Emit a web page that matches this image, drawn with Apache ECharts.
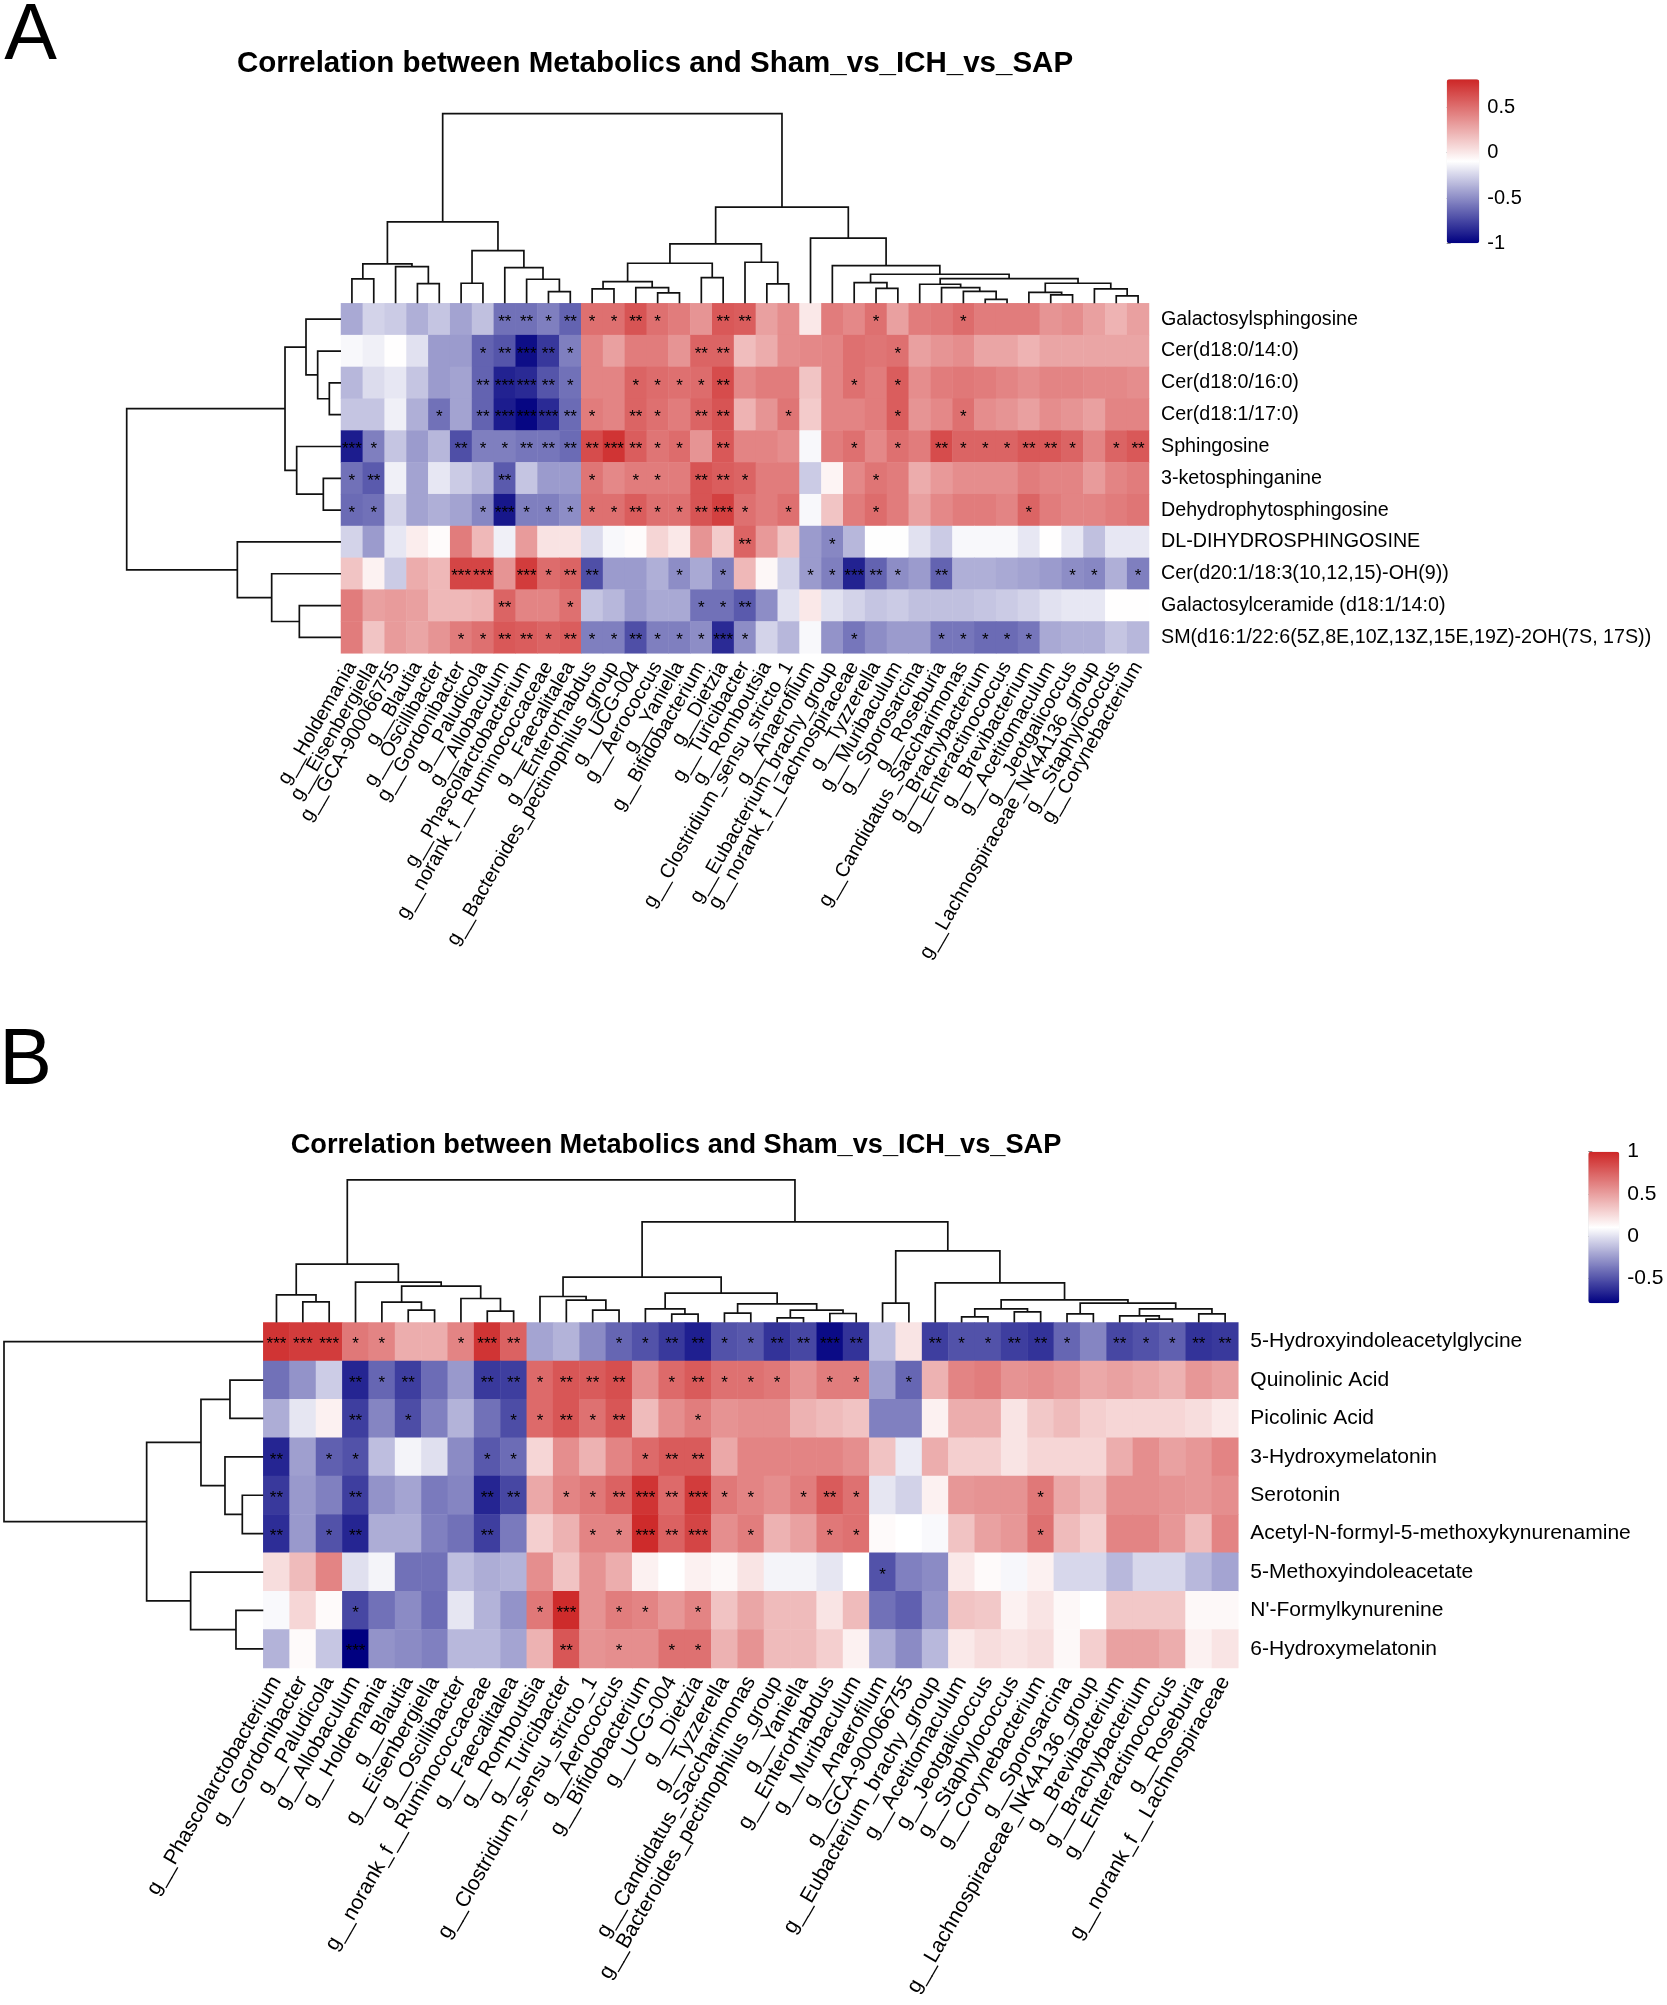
<!DOCTYPE html>
<html><head><meta charset="utf-8">
<script src="https://cdn.jsdelivr.net/npm/echarts@6/dist/echarts.min.js"></script>
<style>html,body{margin:0;padding:0;background:#fff}#c{width:1667px;height:2005px}</style>
</head><body><div id="c"></div>
<script>
const FONT = '"Liberation Sans", Arial, Helvetica, sans-serif';

// ---------------- Panel A data ----------------
const titleA = 'Correlation between Metabolics and Sham_vs_ICH_vs_SAP';
const rowsA = ['Galactosylsphingosine','Cer(d18:0/14:0)','Cer(d18:0/16:0)','Cer(d18:1/17:0)','Sphingosine','3-ketosphinganine','Dehydrophytosphingosine','DL-DIHYDROSPHINGOSINE','Cer(d20:1/18:3(10,12,15)-OH(9))','Galactosylceramide (d18:1/14:0)','SM(d16:1/22:6(5Z,8E,10Z,13Z,15E,19Z)-2OH(7S, 17S))'];
const colsA = ['g__Holdemania','g__Eisenbergiella','g__GCA-900066755','g__Blautia','g__Oscillibacter','g__Gordonibacter','g__Paludicola','g__Allobaculum','g__Phascolarctobacterium','g__norank_f__Ruminococcaceae','g__Faecalitalea','g__Enterorhabdus','g__Bacteroides_pectinophilus_group','g__UCG-004','g__Aerococcus','g__Yaniella','g__Bifidobacterium','g__Dietzia','g__Turicibacter','g__Romboutsia','g__Clostridium_sensu_stricto_1','g__Anaerofilum','g__Eubacterium_brachy_group','g__norank_f__Lachnospiraceae','g__Tyzzerella','g__Muribaculum','g__Sporosarcina','g__Roseburia','g__Candidatus_Saccharimonas','g__Brachybacterium','g__Enteractinococcus','g__Brevibacterium','g__Acetitomaculum','g__Jeotgalicoccus','g__Lachnospiraceae_NK4A136_group','g__Staphylococcus','g__Corynebacterium'];
const valuesA = [
 [-0.40,-0.25,-0.28,-0.38,-0.30,-0.42,-0.32,-0.60,-0.60,-0.55,-0.65,0.50,0.50,0.62,0.50,0.45,0.35,0.60,0.58,0.30,0.38,0.00,0.45,0.40,0.50,0.30,0.45,0.47,0.52,0.45,0.45,0.45,0.35,0.38,0.30,0.22,0.30],
 [-0.12,-0.15,-0.09,-0.20,-0.45,-0.45,-0.65,-0.70,-0.95,-0.80,-0.55,0.42,0.30,0.45,0.45,0.35,0.55,0.55,0.18,0.25,0.38,0.40,0.42,0.50,0.48,0.50,0.30,0.35,0.38,0.28,0.28,0.22,0.28,0.28,0.28,0.28,0.28],
 [-0.35,-0.22,-0.18,-0.30,-0.45,-0.42,-0.65,-0.88,-0.85,-0.70,-0.60,0.42,0.42,0.55,0.52,0.50,0.52,0.65,0.40,0.45,0.45,0.15,0.42,0.50,0.45,0.58,0.38,0.45,0.47,0.45,0.42,0.38,0.42,0.42,0.40,0.40,0.38],
 [-0.30,-0.30,-0.15,-0.38,-0.60,-0.42,-0.65,-0.90,-0.98,-0.85,-0.62,0.45,0.42,0.55,0.50,0.45,0.55,0.62,0.22,0.35,0.48,0.12,0.42,0.42,0.45,0.58,0.35,0.40,0.50,0.38,0.35,0.30,0.38,0.35,0.30,0.42,0.42],
 [-0.90,-0.55,-0.30,-0.45,-0.35,-0.72,-0.55,-0.55,-0.58,-0.58,-0.62,0.65,0.75,0.58,0.48,0.52,0.35,0.60,0.42,0.42,0.38,-0.12,0.45,0.50,0.40,0.50,0.45,0.65,0.55,0.55,0.55,0.60,0.60,0.55,0.42,0.55,0.60],
 [-0.60,-0.68,-0.15,-0.42,-0.18,-0.28,-0.35,-0.68,-0.30,-0.45,-0.45,0.48,0.40,0.45,0.45,0.45,0.62,0.58,0.55,0.45,0.45,-0.28,-0.05,0.40,0.48,0.45,0.25,0.33,0.38,0.38,0.38,0.45,0.42,0.42,0.32,0.42,0.45],
 [-0.62,-0.60,-0.25,-0.42,-0.38,-0.42,-0.52,-0.92,-0.55,-0.55,-0.50,0.50,0.50,0.58,0.50,0.50,0.62,0.70,0.50,0.45,0.50,-0.12,0.15,0.45,0.52,0.45,0.30,0.40,0.45,0.45,0.42,0.55,0.45,0.42,0.42,0.45,0.48],
 [-0.25,-0.45,-0.18,-0.02,-0.08,0.45,0.20,-0.15,0.32,0.02,0.02,-0.22,-0.12,-0.08,0.08,0.00,0.35,0.12,0.55,0.33,0.15,-0.45,-0.52,-0.35,-0.10,-0.10,-0.20,-0.28,-0.12,-0.12,-0.12,-0.18,-0.09,-0.18,-0.32,-0.18,-0.18],
 [0.15,-0.04,-0.28,0.25,0.20,0.68,0.68,0.35,0.72,0.52,0.55,-0.72,-0.45,-0.45,-0.38,-0.50,-0.40,-0.55,0.20,-0.06,-0.25,-0.45,-0.55,-0.88,-0.65,-0.50,-0.45,-0.65,-0.38,-0.38,-0.40,-0.42,-0.45,-0.50,-0.52,-0.38,-0.55],
 [0.45,0.30,0.32,0.30,0.20,0.20,0.22,0.55,0.42,0.42,0.50,-0.30,-0.35,-0.45,-0.40,-0.40,-0.60,-0.60,-0.68,-0.50,-0.20,0.00,-0.20,-0.25,-0.30,-0.28,-0.32,-0.32,-0.32,-0.30,-0.28,-0.25,-0.20,-0.18,-0.18,-0.09,-0.09],
 [0.45,0.15,0.32,0.28,0.35,0.45,0.50,0.60,0.58,0.55,0.58,-0.55,-0.55,-0.72,-0.55,-0.55,-0.50,-0.85,-0.50,-0.25,-0.35,-0.12,-0.48,-0.58,-0.50,-0.45,-0.45,-0.58,-0.58,-0.62,-0.62,-0.58,-0.40,-0.38,-0.38,-0.30,-0.35]
];
// significance level per cell: 0 none, 1 '*', 2 '**', 3 '***'
const starsA = [
 '0000000221211210022000001000100000000',
 '0000001232100000220000000100000000000',
 '0000002332100111120000010100000000000',
 '0000102333210210220010000100100000000',
 '3100021122223211020000010102111221012',
 '1200000200010110221000001000000000000',
 '1100001311111211231010001000000100000',
 '0000000000000000002000100000000000000',
 '0000033031220001010001132102000001101',
 '0000000200100000112000000000000000000',
 '0000011221211211131000010001111100000'
];
// dendrograms: [height, left, right], leaves = column / row index
const colTreeA = [568,
  [244, [118, [73, 0, 1], [110, 2, [59, 3, 4]]],
        [158, [60, 5, 6], [107, 7, [72, 8, [35, 9, 10]]]]],
  [288,
    [178, [120, [65, [43, 11, 12], [47, 13, [31, 14, 15]]], [77, 16, 17]],
          [123, 18, [58, 19, 20]]],
    [195, 21,
      [113, 22,
        [87, [62, 23, [45, 24, 25]],
             [74, [57, 26, [47, 27, [36, 28, [12, 29, 30]]]],
                  [60, [33, 31, [25, 32, 33]], [43, 34, [22, 35, 36]]]]]]]]];
const rowTreeA = [643,
  [168, [105, 0, [70, 1, [35, 2, 3]]], [133, 4, [53, 5, 6]]],
  [311, 7, [208, 8, [125, 9, 10]]]];
const rangeA = [-1, 0.81];
const ticksA = [-1, -0.5, 0, 0.5];

// ---------------- Panel B data ----------------
const titleB = 'Correlation between Metabolics and Sham_vs_ICH_vs_SAP';
const rowsB = ['5-Hydroxyindoleacetylglycine','Quinolinic Acid','Picolinic Acid','3-Hydroxymelatonin','Serotonin','Acetyl-N-formyl-5-methoxykynurenamine','5-Methoxyindoleacetate',"N'-Formylkynurenine",'6-Hydroxymelatonin'];
const colsB = ['g__Phascolarctobacterium','g__Gordonibacter','g__Paludicola','g__Allobaculum','g__Holdemania','g__Blautia','g__Eisenbergiella','g__Oscillibacter','g__norank_f__Ruminococcaceae','g__Faecalitalea','g__Romboutsia','g__Turicibacter','g__Clostridium_sensu_stricto_1','g__Aerococcus','g__Bifidobacterium','g__UCG-004','g__Dietzia','g__Tyzzerella','g__Candidatus_Saccharimonas','g__Bacteroides_pectinophilus_group','g__Yaniella','g__Enterorhabdus','g__Muribaculum','g__Anaerofilum','g__GCA-900066755','g__Eubacterium_brachy_group','g__Acetitomaculum','g__Jeotgalicoccus','g__Staphylococcus','g__Corynebacterium','g__Sporosarcina','g__Lachnospiraceae_NK4A136_group','g__Brevibacterium','g__Brachybacterium','g__Enteractinococcus','g__Roseburia','g__norank_f__Lachnospiraceae'];
const valuesB = [
 [0.94,0.91,0.91,0.66,0.61,0.44,0.44,0.61,0.94,0.75,-0.22,-0.17,-0.31,-0.44,-0.51,-0.60,-0.69,-0.51,-0.49,-0.62,-0.55,-0.76,-0.62,-0.13,0.21,-0.58,-0.51,-0.51,-0.58,-0.62,-0.44,-0.33,-0.55,-0.51,-0.46,-0.62,-0.60],
 [-0.40,-0.28,-0.08,-0.67,-0.44,-0.58,-0.42,-0.26,-0.60,-0.58,0.72,0.80,0.78,0.83,0.57,0.72,0.78,0.69,0.69,0.66,0.55,0.64,0.64,-0.24,-0.44,0.42,0.61,0.64,0.55,0.57,0.53,0.46,0.49,0.46,0.42,0.53,0.49],
 [-0.19,0.01,0.16,-0.58,-0.33,-0.53,-0.35,-0.17,-0.40,-0.53,0.72,0.80,0.69,0.80,0.38,0.57,0.64,0.55,0.57,0.57,0.42,0.38,0.35,-0.35,-0.35,0.16,0.44,0.44,0.21,0.33,0.38,0.30,0.27,0.27,0.27,0.24,0.19],
 [-0.67,-0.24,-0.46,-0.51,-0.13,0.06,-0.01,-0.31,-0.49,-0.42,0.27,0.57,0.42,0.61,0.72,0.78,0.78,0.46,0.61,0.61,0.61,0.61,0.57,0.35,0.03,0.44,0.30,0.30,0.21,0.27,0.27,0.27,0.44,0.57,0.49,0.53,0.61],
 [-0.60,-0.26,-0.35,-0.58,-0.28,-0.22,-0.37,-0.33,-0.67,-0.55,0.46,0.61,0.66,0.75,0.94,0.72,0.91,0.66,0.61,0.57,0.64,0.78,0.69,0.01,-0.06,0.16,0.53,0.55,0.55,0.66,0.46,0.38,0.57,0.57,0.55,0.53,0.57],
 [-0.64,-0.26,-0.51,-0.67,-0.19,-0.19,-0.35,-0.40,-0.58,-0.37,0.30,0.42,0.61,0.61,0.98,0.75,0.87,0.57,0.64,0.42,0.49,0.66,0.69,0.12,0.10,0.08,0.35,0.49,0.53,0.69,0.38,0.30,0.61,0.61,0.53,0.38,0.61],
 [0.24,0.38,0.61,-0.01,0.06,-0.40,-0.40,-0.13,-0.19,-0.17,0.57,0.35,0.55,0.44,0.16,0.10,0.16,0.13,0.21,0.06,0.06,0.01,0.10,-0.51,-0.35,-0.31,0.19,0.12,0.07,0.16,-0.04,-0.04,-0.15,-0.04,-0.04,-0.15,-0.22],
 [0.08,0.27,0.12,-0.55,-0.40,-0.31,-0.42,0.01,-0.17,-0.28,0.66,0.98,0.55,0.64,0.61,0.53,0.61,0.35,0.47,0.38,0.38,0.21,0.38,-0.40,-0.46,-0.28,0.35,0.33,0.16,0.21,0.13,0.10,0.33,0.33,0.33,0.13,0.13],
 [-0.17,0.12,-0.10,-0.80,-0.28,-0.31,-0.35,-0.15,-0.15,-0.22,0.42,0.80,0.55,0.57,0.57,0.69,0.69,0.42,0.55,0.38,0.38,0.30,0.16,-0.19,-0.31,-0.15,0.19,0.24,0.21,0.24,0.13,0.30,0.49,0.49,0.44,0.16,0.21]
];
const starsB = [
 '3331100132000112211223200211221021122',
 '0002120022122201211101101000000000000',
 '0002010001121200100000000000000000000',
 '2011000011000012200000000000000000000',
 '2002000022011232311012100000010000000',
 '2012000020001132301001100000010000000',
 '0000000000000000000000010000000000000',
 '0001000000130110100000000000000000000',
 '0003000000020101100000000000000000000'
];
const colTreeB = [428,
  [175, [83, 0, [62, 1, 2]],
        [121, 3, [109, [61, 4, [37, 5, 6]], [72, 7, [34, 8, 9]]]]],
  [302,
    [136, [78, 10, [67, 11, [37, 12, 13]]],
          [88, [41, 14, [25, 15, 16]],
               [56, [28, 17, 18], [37, [14, 19, 20], [27, 21, 22]]]]],
    [215, [58, 23, 24],
      [119, 25,
        [68, [41, [17, 26, 27], [32, 28, 29]],
             [58, [26, 30, 31], [41, [20, 32, [10, 33, 34]], [26, 35, 36]]]]]]]];
const rowTreeB = [778, 0,
  [350, [187, [100, 1, 2], [115, 3, [63, 4, 5]]], [218, 6, [82, 7, 8]]]];
const rangeB = [-0.8, 1];
const ticksB = [-0.5, 0, 0.5, 1];

// ---------------- helpers ----------------
const STAR = ['', '*', '**', '***'];
const PALETTE = ['#000080', '#ffffff', '#CD2626'];
function heatData(vals, stars) {
  const out = [];
  vals.forEach((row, r) => row.forEach((v, c) => out.push([c, r, v, STAR[+stars[r][c]]])));
  return out;
}
function dendroSegs(tree) {
  const out = [];
  (function walk(n) {
    if (typeof n === 'number') return [n + 0.5, 0];
    const L = walk(n[1]), R = walk(n[2]);
    out.push([L[0], L[1], R[0], R[1], n[0]]);
    return [(L[0] + R[0]) / 2, n[0]];
  })(tree);
  return out;
}
function dendroSeries(tree, axisIdx, vertical) {
  return {
    type: 'custom', xAxisIndex: axisIdx, yAxisIndex: axisIdx, silent: true, clip: false,
    data: dendroSegs(tree),
    renderItem: function (params, api) {
      const xl = api.value(0), hl = api.value(1), xr = api.value(2), hr = api.value(3), h = api.value(4);
      const pts = vertical
        ? [api.coord([xl, hl]), api.coord([xl, h]), api.coord([xr, h]), api.coord([xr, hr])]
        : [api.coord([hl, xl]), api.coord([h, xl]), api.coord([h, xr]), api.coord([hr, xr])];
      return { type: 'polyline', shape: { points: pts }, style: { stroke: '#111', lineWidth: 1.7, fill: null } };
    }
  };
}
function heatSeries(vals, stars, idx) {
  return {
    type: 'heatmap', xAxisIndex: idx, yAxisIndex: idx, silent: true,
    data: heatData(vals, stars),
    itemStyle: { borderWidth: 0 },
    label: { show: true, formatter: p => p.data[3], color: '#000', fontSize: 17, fontFamily: FONT, offset: [0, 3] },
    emphasis: { disabled: true }
  };
}

// ---------------- layout ----------------
const A = { x: 341, y: 303.3, w: 808, h: 350, top: 113.7, left: 126.7, font: 19.7 };
const B = { x: 263.3, y: 1322.5, w: 975, h: 345.5, top: 1179.8, left: 4, font: 21 };
const CBA = { x: 1446.7, y: 79.3, w: 32.6, h: 164, font: 20 };
const CBB = { x: 1588.3, y: 1151.7, w: 31, h: 151.6, font: 21 };

function grids(P) {
  return [
    { left: P.x, top: P.y, width: P.w, height: P.h },
    { left: P.x, top: P.top, width: P.w, height: P.y - P.top },
    { left: P.left, top: P.y, width: P.x - P.left, height: P.h }
  ];
}
const hidden = { show: false };
function xAxes(P, cols, rowTree, g0) {
  return [
    { type: 'category', gridIndex: g0, data: cols, position: 'bottom', axisLine: hidden, axisTick: hidden, splitLine: hidden,
      axisLabel: { interval: 0, rotate: 60, fontSize: P.font, color: '#000', fontFamily: FONT, margin: 10 } },
    { type: 'value', gridIndex: g0 + 1, min: 0, max: cols.length, show: false },
    { type: 'value', gridIndex: g0 + 2, min: 0, max: rowTree[0], inverse: true, show: false }
  ];
}
function yAxes(P, rows, colTree, g0) {
  return [
    { type: 'category', gridIndex: g0, data: rows, inverse: true, position: 'right', axisLine: hidden, axisTick: hidden, splitLine: hidden,
      axisLabel: { fontSize: P.font, color: '#000', fontFamily: FONT, margin: 12 } },
    { type: 'value', gridIndex: g0 + 1, min: 0, max: colTree[0], show: false },
    { type: 'value', gridIndex: g0 + 2, min: 0, max: rows.length, inverse: true, show: false }
  ];
}
function cbAxis(C, range, ticks, g) {
  return { type: 'value', gridIndex: g, position: 'right', min: range[0], max: range[1],
    axisLine: hidden, splitLine: hidden,
    axisTick: { show: true, length: 4, lineStyle: { color: '#888' }, customValues: ticks },
    axisLabel: { fontSize: C.font, color: '#000', fontFamily: FONT, margin: 8, customValues: ticks } };
}

const chart = echarts.init(document.getElementById('c'), null, { renderer: 'canvas' });
const gridList = grids(A).concat(grids(B)).concat([
  { left: CBA.x, top: CBA.y, width: CBA.w, height: CBA.h },
  { left: CBB.x, top: CBB.y, width: CBB.w, height: CBB.h }
]).map(g => Object.assign({ containLabel: false, outerBoundsMode: 'none' }, g));

const textStyle = (t, x, y, size, bold) => ({ type: 'text', silent: true,
  style: { text: t, x: x, y: y, fontSize: size, fontWeight: bold ? 'bold' : 'normal', fontFamily: FONT, fill: '#000',
    textAlign: 'center', textVerticalAlign: 'middle', align: 'center', verticalAlign: 'middle' } });

chart.setOption({
  animation: false,
  backgroundColor: '#fff',
  textStyle: { fontFamily: FONT },
  grid: gridList,
  xAxis: xAxes(A, colsA, rowTreeA, 0).concat(xAxes(B, colsB, rowTreeB, 3)).concat([
    { type: 'value', gridIndex: 6, show: false }, { type: 'value', gridIndex: 7, show: false }]),
  yAxis: yAxes(A, rowsA, colTreeA, 0).concat(yAxes(B, rowsB, colTreeB, 3)).concat([
    cbAxis(CBA, rangeA, ticksA, 6), cbAxis(CBB, rangeB, ticksB, 7)]),
  visualMap: [
    { type: 'continuous', seriesIndex: 0, dimension: 2, min: rangeA[0], max: rangeA[1], calculable: false, orient: 'vertical',
      left: CBA.x, top: CBA.y, itemWidth: CBA.w, itemHeight: CBA.h, padding: 0, text: null, hoverLink: false,
      inRange: { color: PALETTE } },
    { type: 'continuous', seriesIndex: 3, dimension: 2, min: rangeB[0], max: rangeB[1], calculable: false, orient: 'vertical',
      left: CBB.x, top: CBB.y, itemWidth: CBB.w, itemHeight: CBB.h, padding: 0, text: null, hoverLink: false,
      inRange: { color: PALETTE } }
  ],
  series: [
    heatSeries(valuesA, starsA, 0), dendroSeries(colTreeA, 1, true), dendroSeries(rowTreeA, 2, false),
    heatSeries(valuesB, starsB, 3), dendroSeries(colTreeB, 4, true), dendroSeries(rowTreeB, 5, false)
  ],
  graphic: [
    textStyle('A', 30.5, 37, 79, false),
    textStyle('B', 25.5, 1062, 79, false),
    textStyle(titleA, 655, 64, 29.5, true),
    textStyle(titleB, 676, 1146, 27.2, true)
  ]
});
</script>
</body></html>
